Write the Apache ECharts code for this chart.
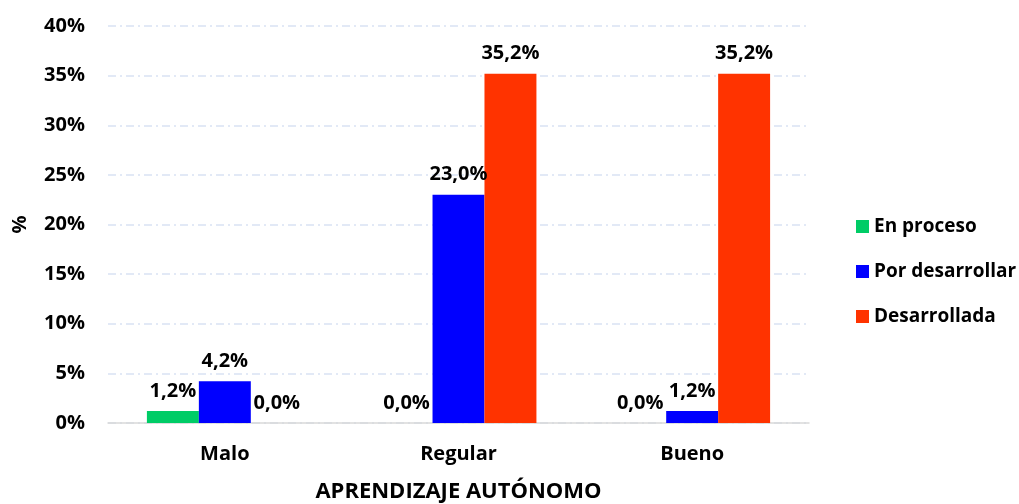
<!DOCTYPE html>
<html>
<head>
<meta charset="utf-8">
<script src="https://cdn.jsdelivr.net/npm/echarts@6/dist/echarts.min.js"></script>
<style>
  html, body { margin: 0; padding: 0; background: #fff; }
  #chart { width: 1019px; height: 504px; }
</style>
</head>
<body>
<div id="chart"></div>
<script>
var categories = ['Malo', 'Regular', 'Bueno']
var seriesNames = ['En proceso', 'Por desarrollar', 'Desarrollada']
var enProceso = [1.2, 0.0, 0.0]
var porDesarrollar = [4.2, 23.0, 1.2]
var desarrollada = [0.0, 35.2, 35.2]
var colors = ['#00cc66', '#0000ff', '#ff3300']

var font = '"Open Sans", sans-serif'
var myChart = echarts.init(document.getElementById('chart'))

function makeSeries (name, data, color) {
  return {
    name: name,
    type: 'bar',
    data: data,
    barGap: 0,
    barCategoryGap: '33.3%',
    itemStyle: { color: color },
    label: {
      show: true,
      position: 'top',
      distance: 10,
      color: '#000',
      fontFamily: font,
      fontWeight: 'bold',
      fontSize: 20,
      formatter: function (p) {
        return p.value.toFixed(1).replace('.', ',') + '%'
      }
    }
  }
}

var option = {
  animation: false,
  textStyle: { fontFamily: font },
  grid: {
    left: 108,
    right: 210,
    top: 26,
    bottom: 81,
    containLabel: false,
    outerBoundsMode: 'none'
  },
  legend: {
    orient: 'vertical',
    left: 851,
    top: 212,
    itemWidth: 13,
    itemHeight: 13,
    itemGap: 26,
    icon: 'rect',
    textStyle: {
      color: '#000',
      fontFamily: font,
      fontWeight: 'bold',
      fontSize: 19
    },
    data: seriesNames
  },
  xAxis: {
    type: 'category',
    data: categories,
    name: 'APRENDIZAJE AUTÓNOMO',
    nameLocation: 'middle',
    nameGap: 58,
    nameTextStyle: {
      color: '#000',
      fontFamily: font,
      fontWeight: 'bold',
      fontSize: 22
    },
    axisLine: { lineStyle: { color: '#d9d9d9', width: 1.5 } },
    axisTick: { show: false },
    axisLabel: {
      color: '#000',
      fontFamily: font,
      fontWeight: 'bold',
      fontSize: 20,
      margin: 21
    }
  },
  yAxis: {
    type: 'value',
    min: 0,
    max: 40,
    interval: 5,
    name: '%',
    nameLocation: 'middle',
    nameGap: 78,
    nameRotate: 90,
    nameTextStyle: {
      color: '#000',
      fontFamily: font,
      fontWeight: 'bold',
      fontSize: 20
    },
    axisLine: { show: false },
    axisTick: { show: false },
    axisLabel: {
      color: '#000',
      fontFamily: font,
      fontWeight: 'bold',
      fontSize: 20,
      margin: 23,
      formatter: '{value}%'
    },
    splitLine: {
      lineStyle: {
        color: '#d9e2f3',
        width: 1.5,
        type: [8, 4, 2, 4]
      }
    }
  },
  series: [
    makeSeries(seriesNames[0], enProceso, colors[0]),
    makeSeries(seriesNames[1], porDesarrollar, colors[1]),
    makeSeries(seriesNames[2], desarrollada, colors[2])
  ]
}

myChart.setOption(option)
</script>
</body>
</html>
